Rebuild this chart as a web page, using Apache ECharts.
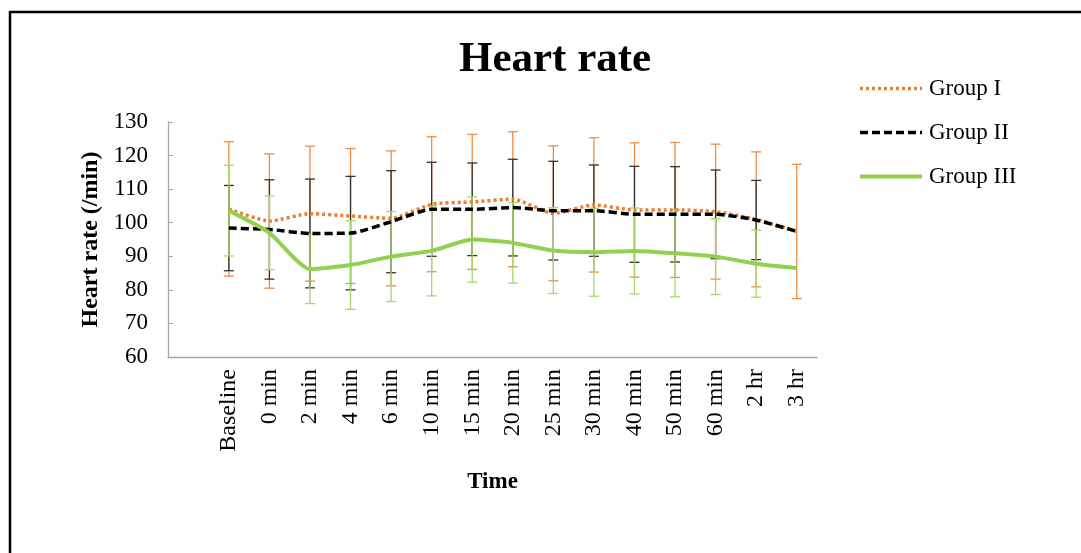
<!DOCTYPE html>
<html>
<head>
<meta charset="utf-8">
<script src="https://cdn.jsdelivr.net/npm/echarts@6/dist/echarts.min.js"></script>
<style>
html,body{margin:0;padding:0;background:#fff;}
#chart{width:1081px;height:553px;}
</style>
</head>
<body>
<div id="chart"></div>
<script>
// ---- data ----
const timepoints = ['Baseline','0 min','2 min','4 min','6 min','10 min','15 min','20 min','25 min','30 min','40 min','50 min','60 min','2 hr','3 hr'];
const yTicks = [60,70,80,90,100,110,120,130];
const groupIMean  = [104.1,100.5,102.7,102.0,101.3,105.5,106.2,107.0,102.8,105.3,103.8,103.8,103.3,101.0,97.4];
const groupISD    = [20.0,20.0,20.1,20.1,20.1,20.1,20.1,20.1,20.1,20.0,20.0,20.1,20.1,20.1,20.0];
const groupIIMean = [98.4,98.0,96.8,96.9,100.3,104.0,104.0,104.5,103.6,103.6,102.5,102.5,102.5,100.8,97.4];
const groupIISD   = [12.7,14.8,16.2,16.9,15.2,14.0,13.8,14.4,14.7,13.6,14.3,14.2,13.2,11.8,null];
const groupIIIMean= [103.6,97.0,86.2,87.4,89.9,91.6,95.0,94.0,91.7,91.2,91.6,90.9,89.9,87.8,86.5];
const groupIIISD  = [13.5,11.0,10.3,13.2,13.4,13.4,12.7,12.0,12.8,13.1,12.8,13.0,11.3,10.0,null];

// leading empty category (as in the original sheet)
const xCats = [''].concat(timepoints);
const FONT = 'Liberation Serif';

function lineData(means){ return [null].concat(means); }
function errData(means, sds){
  const out = [];
  means.forEach((m,i)=>{ if(sds[i]!=null) out.push([timepoints[i], m - sds[i], m + sds[i]]); });
  return out;
}
function errRenderer(color){
  return function(params, api){
    const x = api.value(0), lo = api.value(1), hi = api.value(2);
    const p1 = api.coord([x, lo]), p2 = api.coord([x, hi]);
    const w = 5;
    const st = {stroke: color, lineWidth: 1.3};
    return {type:'group', children:[
      {type:'line', shape:{x1:p1[0],y1:p1[1],x2:p2[0],y2:p2[1]}, style:st},
      {type:'line', shape:{x1:p1[0]-w,y1:p1[1],x2:p1[0]+w,y2:p1[1]}, style:st},
      {type:'line', shape:{x1:p2[0]-w,y1:p2[1],x2:p2[0]+w,y2:p2[1]}, style:st}
    ]};
  };
}

const chart = echarts.init(document.getElementById('chart'));
chart.setOption({
  animation:false,
  backgroundColor:'#fff',
  graphic:[{type:'rect', shape:{x:10,y:12,width:1100,height:600}, style:{fill:'none',stroke:'#000',lineWidth:2.5}, silent:true}],
  title:{text:'Heart rate', left:454, top:33, 
    textStyle:{fontFamily:FONT, fontWeight:'bold', fontSize:43, color:'#000'}},
  legend:{orient:'vertical', left:853, top:72, itemWidth:62, itemHeight:14, itemGap:21,
    itemStyle:{opacity:0},
    textStyle:{fontFamily:FONT, fontSize:23, color:'#000', padding:[0,0,0,2]},
    data:[
      {name:'Group I', lineStyle:{width:3.5}},
      {name:'Group II', lineStyle:{width:3.5}},
      {name:'Group III', lineStyle:{width:4}}
    ]},
  grid:{left:168, right:264, top:122, bottom:196, containLabel:false},
  xAxis:{type:'category', data:xCats, boundaryGap:true,
    name:'Time', nameLocation:'middle', nameGap:114,
    nameTextStyle:{fontFamily:FONT, fontWeight:'bold', fontSize:23, color:'#000'},
    axisLine:{lineStyle:{color:'#a6a6a6', width:1.3}},
    axisTick:{alignWithLabel:true, inside:true, length:5, lineStyle:{color:'#a6a6a6'}},
    axisLabel:{rotate:90, margin:12, interval:0, fontFamily:FONT, fontSize:24, color:'#000'},
    splitLine:{show:false}},
  yAxis:{type:'value', min:yTicks[0], max:yTicks[yTicks.length-1], interval:10,
    name:'Heart rate (/min)', nameLocation:'middle', nameGap:65,
    nameTextStyle:{fontFamily:FONT, fontWeight:'bold', fontSize:24, color:'#000'},
    axisLine:{show:true, lineStyle:{color:'#a6a6a6', width:1.3}},
    axisTick:{show:true, inside:true, length:5, lineStyle:{color:'#a6a6a6'}},
    axisLabel:{margin:20, fontFamily:FONT, fontSize:23, color:'#000'},
    splitLine:{show:false}},
  series:[
    {name:'Group I err', type:'custom', renderItem:errRenderer('#ef8c45'), data:errData(groupIMean,groupISD), z:2, silent:true, encode:{x:0,y:[1,2]}},
    {name:'Group II err', type:'custom', renderItem:errRenderer('#333333'), data:errData(groupIIMean,groupIISD), z:3, silent:true, encode:{x:0,y:[1,2]}},
    {name:'Group III err', type:'custom', renderItem:errRenderer('#a5d86a'), data:errData(groupIIIMean,groupIIISD), z:4, silent:true, encode:{x:0,y:[1,2]}},
    {name:'Group I', type:'line', data:lineData(groupIMean), smooth:0.2, symbol:'none', z:5, color:'#ed7d31',
      lineStyle:{color:'#ed7d31', width:3.5, type:[3,3], cap:'butt'}},
    {name:'Group II', type:'line', data:lineData(groupIIMean), smooth:0.2, symbol:'none', z:6, color:'#000',
      lineStyle:{color:'#000', width:3.5, type:[8,4], cap:'butt'}},
    {name:'Group III', type:'line', data:lineData(groupIIIMean), smooth:0.2, symbol:'none', z:7, color:'#92d050',
      lineStyle:{color:'#92d050', width:4}}
  ]
});
</script>
</body>
</html>
